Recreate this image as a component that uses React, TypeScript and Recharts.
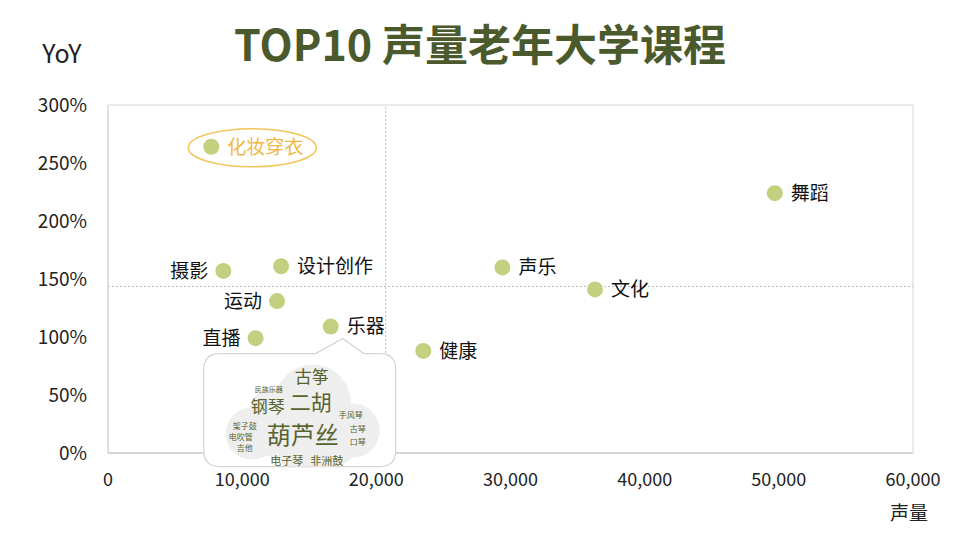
import React from 'react';
import {
  ScatterChart, Scatter, XAxis, YAxis, ReferenceLine, ReferenceArea, ReferenceDot,
} from 'recharts';

// courses, volume (声量) and YoY growth
const courses = ['化妆穿衣', '舞蹈', '摄影', '设计创作', '声乐', '文化', '运动', '乐器', '直播', '健康'];
const volume = [7700, 49700, 8600, 12900, 29400, 36300, 12600, 16600, 11000, 23500];
const yoy = [2.64, 2.24, 1.57, 1.61, 1.6, 1.41, 1.31, 1.09, 0.99, 0.88];

const xTicks = [0, 10000, 20000, 30000, 40000, 50000, 60000];
const yTicks = [0, 0.5, 1, 1.5, 2, 2.5, 3];

const refVolume = 20700;
const refYoy = 1.435;

// word cloud for 乐器
const cloudWords = ['古筝', '二胡', '钢琴', '民族乐器', '葫芦丝', '架子鼓', '电吹管', '吉他', '手风琴', '古琴', '口琴', '电子琴', '非洲鼓'];
const cloudWeights = [17, 21, 17, 7, 24, 8, 8, 8, 8, 8, 8, 11, 11];

const HIGHLIGHT = '化妆穿衣';
const LEFT_LABELS = ['摄影', '运动', '直播'];
const CLOUD_FOR = '乐器';

const FONT = '"Noto Sans CJK SC", "Noto Sans", sans-serif';
const DOT = '#c2d07f';
const OLIVE = '#4b5a2c';

const data = courses.map((name, i) => ({ name, volume: volume[i], yoy: yoy[i] }));
const cloudIdx = courses.indexOf(CLOUD_FOR);

const fmtThousands = (v: number) => v.toLocaleString('en-US');
const fmtPct = (v: number) => `${Math.round(v * 100)}%`;

const renderDot = (props: any) => {
  const { cx, cy, payload } = props;
  const hi = payload.name === HIGHLIGHT;
  const left = LEFT_LABELS.includes(payload.name);
  return (
    <g>
      {hi && (
        <ellipse cx={cx + 41} cy={cy + 1} rx={64} ry={19} fill="none" stroke="#f2c55a" strokeWidth={1.6} />
      )}
      <circle cx={cx} cy={cy} r={8} fill={DOT} />
      <text
        x={left ? cx - 15 : cx + 16}
        y={cy}
        dy="0.36em"
        textAnchor={left ? 'end' : 'start'}
        fontSize={19}
        fontFamily={FONT}
        fill={hi ? '#f0b93e' : '#111'}
      >
        {payload.name}
      </text>
    </g>
  );
};

// word cloud layout, relative to the 乐器 dot
const cloudCircles = [
  [-18, 76, 38], [-59, 84, 22], [-79, 107, 26], [22, 104, 27], [-22, 114, 35], [-47, 104, 30], [0, 110, 30],
];
const cloudPos = [
  [-19, 50], [-20, 76], [-63, 80], [-62, 63], [-28, 109], [-86, 100], [-90, 111], [-86, 122],
  [20, 89], [27, 103], [27, 116], [-44, 134], [-4, 134],
];

const CloudBubble = (props: any) => {
  const { cx, cy } = props;
  if (cx == null || cy == null) return null;
  const L = cx - 127, R = cx + 65, T = cy + 27, B = cy + 140, r = 16;
  const d = `M${L + r},${T} L${cx - 15},${T} L${cx + 12},${cy + 12} L${cx + 33},${T} L${R - r},${T}
    Q${R},${T} ${R},${T + r} L${R},${B - r} Q${R},${B} ${R - r},${B} L${L + r},${B}
    Q${L},${B} ${L},${B - r} L${L},${T + r} Q${L},${T} ${L + r},${T} Z`;
  return (
    <g>
      <defs>
        <clipPath id="cloudClip">
          <path d={d} />
        </clipPath>
      </defs>
      <path d={d} fill="#fff" stroke="#d4d4d4" strokeWidth={1.2} />
      <g clipPath="url(#cloudClip)">
        {cloudCircles.map(([dx, dy, rr], i) => (
          <circle key={i} cx={cx + dx} cy={cy + dy} r={rr} fill="#eeeeee" />
        ))}
      </g>
      {cloudWords.map((w, i) => (
        <text
          key={w}
          x={cx + cloudPos[i][0]}
          y={cy + cloudPos[i][1]}
          dy="0.36em"
          textAnchor="middle"
          fontSize={cloudWeights[i]}
          fontFamily={FONT}
          fill="#56642f"
        >
          {w}
        </text>
      ))}
    </g>
  );
};

export default function App() {
  return (
    <div style={{ position: 'absolute', left: 0, top: 0, width: 960, height: 538, background: '#fff', fontFamily: FONT }}>
      <div style={{ position: 'absolute', top: 17, left: 0, width: 960, textAlign: 'center', fontSize: 43, lineHeight: '50px', fontWeight: 700, color: OLIVE }}>
        TOP10 声量老年大学课程
      </div>
      <div style={{ position: 'absolute', top: 37, left: 32, width: 60, textAlign: 'center', fontSize: 25, lineHeight: '30px', color: '#222' }}>
        YoY
      </div>
      <div style={{ position: 'absolute', top: 499, left: 880, width: 58, textAlign: 'center', fontSize: 19, lineHeight: '26px', color: '#222' }}>
        声量
      </div>
      <ScatterChart width={960} height={538} margin={{ top: 105, right: 47, bottom: 0, left: 0 }}>
        <ReferenceArea x1={0} x2={60000} y1={0} y2={3} fill="none" stroke="#d6d6d6" strokeWidth={1} />
        <XAxis
          type="number"
          dataKey="volume"
          domain={[0, 60000]}
          ticks={xTicks}
          tickFormatter={fmtThousands}
          height={85}
          axisLine={{ stroke: '#c4c4c4' }}
          tickLine={false}
          tickSize={0}
          tickMargin={20}
          tick={{ fontSize: 18, fill: '#222', fontFamily: FONT }}
        />
        <YAxis
          type="number"
          dataKey="yoy"
          domain={[0, 3]}
          ticks={yTicks}
          tickFormatter={fmtPct}
          width={108}
          axisLine={{ stroke: '#d6d6d6' }}
          tickLine={false}
          tickSize={0}
          tickMargin={21}
          tick={{ fontSize: 19, fill: '#222', fontFamily: FONT }}
        />
        <ReferenceLine x={refVolume} stroke="#bdbdbd" strokeDasharray="2 2" />
        <ReferenceLine y={refYoy} stroke="#bdbdbd" strokeDasharray="2 2" />
        <Scatter data={data} shape={renderDot} isAnimationActive={false} />
        <ReferenceDot
          x={volume[cloudIdx]}
          y={yoy[cloudIdx]}
          ifOverflow="visible"
          shape={(p: any) => <CloudBubble {...p} />}
        />
      </ScatterChart>
    </div>
  );
}
